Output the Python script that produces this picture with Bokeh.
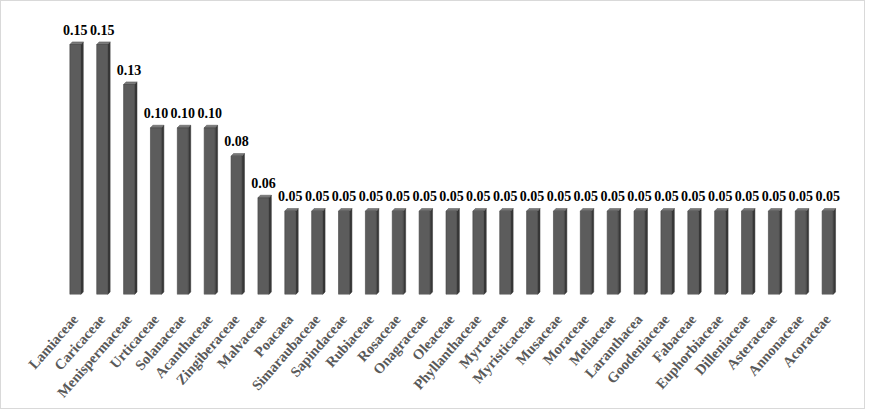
from bokeh.plotting import figure
from bokeh.models import ColumnDataSource, Range1d, FixedTicker
from bokeh.core.properties import value
from bokeh.embed import file_html
from bokeh.resources import INLINE

families = ["Lamiaceae", "Caricaceae", "Menispermaceae", "Urticaceae", "Solanaceae",
            "Acanthaceae", "Zingiberaceae", "Malvaceae", "Poacaea", "Simaraubaceae",
            "Sapindaceae", "Rubiaceae", "Rosaceae", "Onagraceae", "Oleaceae",
            "Phyllanthaceae", "Myrtaceae", "Myristicaceae", "Musaceae", "Moraceae",
            "Meliaceae", "Laranthacea", "Goodeniaceae", "Fabaceae", "Euphorbiaceae",
            "Dilleniaceae", "Asteraceae", "Annonaceae", "Acoraceae"]
values = [0.150, 0.150, 0.126, 0.100, 0.100, 0.100, 0.083, 0.058,
          0.050, 0.050, 0.050, 0.050, 0.050, 0.050, 0.050, 0.050, 0.050,
          0.050, 0.050, 0.050, 0.050, 0.050, 0.050, 0.050, 0.050, 0.050,
          0.050, 0.050, 0.050]
labels = ["%.2f" % v for v in values]

FRAME_W, FRAME_H = 806, 278
X0, X1 = -1, 29
Y0, Y1 = 0, 0.1668
px_x = FRAME_W / (X1 - X0)
px_y = FRAME_H / (Y1 - Y0)
W = 11 / px_x          # front face width
DX = 2.4 / px_x        # depth offset
DY = 2.6 / px_y

xs = list(range(len(families)))

p = figure(frame_width=FRAME_W, frame_height=FRAME_H,
           min_border_left=47, min_border_right=10,
           min_border_top=15, min_border_bottom=108,
           x_range=Range1d(X0, X1), y_range=Range1d(Y0, Y1),
           output_backend="svg", toolbar_location=None, tools="")
p.styles = {"border": "1px solid #d9d9d9", "box-sizing": "border-box"}
p.outline_line_color = None
p.xgrid.visible = False
p.ygrid.visible = False
p.yaxis.visible = False
p.background_fill_color = "white"
p.border_fill_color = "white"

side_xs, side_ys, top_xs, top_ys = [], [], [], []
for x, v in zip(xs, values):
    r = x + W / 2
    l = x - W / 2
    side_xs.append([r, r + DX, r + DX, r])
    side_ys.append([0, DY, v + DY, v])
    top_xs.append([l, r, r + DX, l + DX])
    top_ys.append([v, v, v + DY, v + DY])

p.patches(side_xs, side_ys, fill_color="#383838", line_color="#303030", line_width=0.5)
p.patches(top_xs, top_ys, fill_color="#7a7a7a", line_color="#505050", line_width=0.5)

src = ColumnDataSource(dict(x=xs, top=values, label=labels))
p.vbar(x="x", top="top", bottom=0, width=W, source=src,
       fill_color="#5c5c5c", line_color="#404040", line_width=0.6)

p.text(x="x", y="top", text="label", source=src, y_offset=-15,
       text_align="center", text_baseline="alphabetic",
       text_font=value("Liberation Serif"), text_font_style="bold",
       text_font_size="14px", text_color="black")

ax = p.xaxis[0]
ax.ticker = FixedTicker(ticks=xs)
ax.major_label_overrides = {i: f for i, f in enumerate(families)}
ax.major_label_orientation = 0.85
ax.axis_line_color = None
ax.major_tick_line_color = None
ax.minor_tick_line_color = None
ax.major_label_standoff = 16
ax.major_label_text_font = "Liberation Serif"
ax.major_label_text_font_style = "bold"
ax.major_label_text_font_size = "14.5px"
ax.major_label_text_color = "#595959"

open("out.html", "w").write(file_html(p, INLINE))
